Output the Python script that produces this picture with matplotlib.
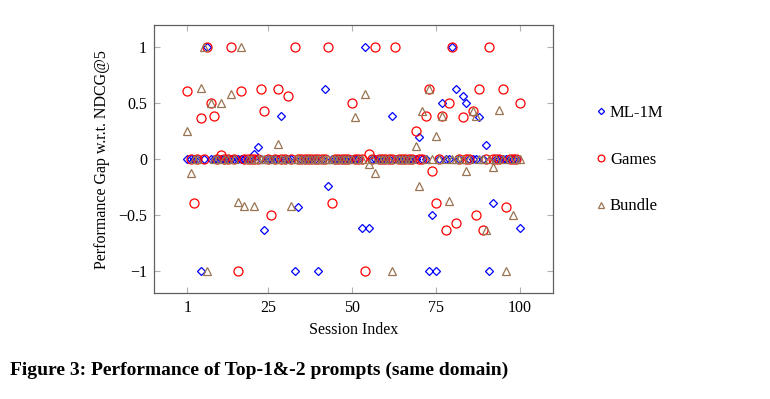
import matplotlib
matplotlib.use("Agg")
import matplotlib.pyplot as plt

# session index 1..100, performance gap per dataset
sessions = list(range(1, 101))

ml_1m = [0, 0, 0, 0, -1, 0, 1, 0, 0, 0,
         0, 0, 0, 0, 0, 0, 0, 0, 0, 0,
         0.05, 0.11, 0, -0.63, 0, 0, 0, 0, 0.39, 0,
         0, 0, -1, -0.43, 0, 0, 0, 0, 0, -1,
         0, 0.63, -0.24, 0, 0, 0, 0, 0, 0, 0,
         0, 0, -0.62, 1, -0.62, 0, 0, 0, 0, 0,
         0, 0.39, 0, 0, 0, 0, 0, 0, 0, 0.2,
         0, 0, -1, -0.5, -1, 0, 0.5, 0, 0, 1,
         0.63, 0, 0.57, 0.5, 0, 0, 0, 0.38, 0, 0.13,
         -1, -0.39, 0, 0, 0, 0, 0, 0, 0, -0.62]

games = [0.61, 0, -0.39, 0, 0.37, 0, 1, 0.5, 0.39, 0,
         0.04, 0, 0, 1, 0, -1, 0.61, 0, 0, 0,
         0, 0, 0.63, 0.43, 0, -0.5, 0, 0.63, 0, 0,
         0.57, 0, 1, 0, 0, 0, 0, 0, 0, 0,
         0, 0, 1, -0.39, 0, 0, 0, 0, 0, 0.5,
         0, 0, 0, -1, 0.05, 0, 1, 0, 0, 0,
         0, 0, 1, 0, 0, 0, 0, 0, 0.25, 0,
         0, 0.39, 0.63, -0.11, -0.39, 0, 0.39, -0.63, 0.5, 1,
         -0.57, 0, 0.38, 0, 0, 0.43, -0.5, 0.63, -0.63, 0,
         1, 0, 0, 0, 0.63, -0.43, 0, 0, 0, 0.5]

bundle = [0.25, -0.125, 0, 0, 0.64, 1, -1, 0.5, 0, 0,
          0.5, 0, 0, 0.58, 0, -0.38, 1, -0.42, 0, 0,
          -0.42, 0, 0, 0, 0, 0, 0, 0.14, 0, 0,
          0, -0.42, 0, 0, 0, 0, 0, 0, 0, 0,
          0, 0, 0, 0, 0, 0, 0, 0, 0, 0,
          0.38, 0, 0, 0.58, -0.04, 0, -0.125, 0, 0, 0,
          0, -1, 0, 0, 0, 0, 0, 0, 0.12, -0.24,
          0.43, 0, 0.63, 0, 0.21, 0, 0.39, 0, -0.37, 0,
          0, 0, 0, -0.11, 0, 0.43, 0.39, 0, 0, -0.63,
          0, -0.07, 0, 0.44, 0, -1, 0, -0.5, 0, 0]

xticks = [1, 25, 50, 75, 100]
yticks = [-1, -0.5, 0, 0.5, 1]
ytick_labels = ["\u22121", "\u22120.5", "0", "0.5", "1"]

plt.rcParams["font.family"] = ["Liberation Serif", "DejaVu Serif"]

fig = plt.figure(figsize=(7.7, 3.99), dpi=100)
ax = fig.add_axes([0.2, 0.265, 0.518, 0.672])

brown = "#9a7452"
ax.plot(sessions, ml_1m, ls="none", marker="D", ms=4.2, mfc="none", mec="blue", mew=0.9, label="ML-1M")
ax.plot(sessions, games, ls="none", marker="o", ms=6.5, mfc="none", mec="red", mew=0.9, label="Games")
ax.plot(sessions, bundle, ls="none", marker="^", ms=5.5, mfc="none", mec=brown, mew=0.9, label="Bundle")

ax.set_xlim(-8.9, 109.9)
ax.set_ylim(-1.2, 1.2)
ax.set_xticks(xticks)
ax.set_yticks(yticks)
ax.set_yticklabels(ytick_labels)
ax.tick_params(direction="in", top=True, right=True, length=4, width=0.8,
               color="#b0b0b0", labelsize=11.5, pad=5)
for s in ax.spines.values():
    s.set_color("#606060")
    s.set_linewidth(0.9)

ax.set_xlabel("Session Index", fontsize=11.5, labelpad=4)
ax.set_ylabel("Performance Gap w.r.t. NDCG@5", fontsize=11.5, labelpad=6)

fig.legend(loc="center left", bbox_to_anchor=(0.75, 0.6), frameon=False,
           fontsize=12, labelspacing=1.85, handletextpad=0.05, handlelength=1.0,
           markerscale=0.75)

fig.text(0.013, 0.073, "Figure 3: Performance of Top-1&-2 prompts (same domain)",
         fontsize=14, fontweight="bold", va="center", ha="left")

fig.savefig("out.png", dpi=100)
